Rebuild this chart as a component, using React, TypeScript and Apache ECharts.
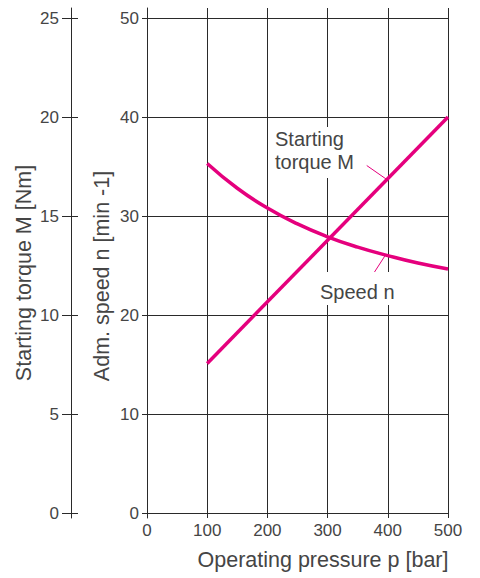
import React, { useEffect, useRef } from "react";
import * as echarts from "echarts";

const pressureTicks = [0, 100, 200, 300, 400, 500];
const speedPressure = [100, 150, 200, 250, 300, 350, 400, 450, 500];
const speedValues = [35.3, 32.8, 30.8, 29.2, 27.9, 26.85, 26.0, 25.25, 24.65];
const torquePressure = [100, 500];
const torqueValues = [7.55, 20.0];
// leader lines (in pressure / speed units)
const torqueLeader = [[365, 35.1], [398, 33.7]];
const speedLeader = [[370, 23.6], [395, 25.95]];

const MAGENTA = "#e5007d";
const LINE = "#2a2a2a";
const TEXT = "#454545";
const FONT = "'Liberation Sans', Arial, sans-serif";

export default function App() {
  const ref = useRef<HTMLDivElement>(null);
  useEffect(() => {
    if (!ref.current) return;
    const chart = echarts.init(ref.current, undefined, { renderer: "svg" });
    const lbl = { color: TEXT, fontSize: 17, fontFamily: FONT };
    chart.setOption({
      animation: false,
      backgroundColor: "#fff",
      grid: [
        { left: 147, right: 32, top: 18, bottom: 65 },
        { left: 147, right: 32, top: 8, bottom: 60 },
      ],
      xAxis: [
        {
          gridIndex: 0,
          type: "value",
          min: pressureTicks[0],
          max: pressureTicks[pressureTicks.length - 1],
          interval: 100,
          axisLine: { show: true, onZero: false, lineStyle: { color: LINE, width: 1 } },
          axisTick: { show: false },
          splitLine: { show: false },
          axisLabel: { ...lbl, margin: 9 },
        },
        {
          gridIndex: 1,
          type: "value",
          min: 0,
          max: 500,
          interval: 100,
          axisLine: { show: false },
          axisTick: { show: false },
          axisLabel: { show: false },
          splitLine: { show: true, lineStyle: { color: LINE, width: 1 } },
        },
      ],
      yAxis: [
        {
          gridIndex: 0,
          type: "value",
          position: "left",
          min: 0,
          max: 50,
          interval: 10,
          axisLine: { show: false },
          axisTick: { show: true, length: 5, lineStyle: { color: LINE } },
          splitLine: { show: true, lineStyle: { color: LINE, width: 1 } },
          axisLabel: { ...lbl, margin: 8 },
        },
        {
          gridIndex: 0,
          type: "value",
          position: "left",
          offset: 76,
          min: 0,
          max: 25,
          interval: 5,
          axisLine: { show: false },
          axisTick: { show: true, length: 9, lineStyle: { color: LINE } },
          splitLine: { show: false },
          axisLabel: { ...lbl, margin: 12 },
        },
        {
          gridIndex: 0,
          type: "value",
          position: "left",
          offset: 76,
          min: 0,
          max: 25,
          interval: 5,
          axisLine: { show: false },
          axisTick: { show: true, inside: true, length: 7, lineStyle: { color: LINE } },
          splitLine: { show: false },
          axisLabel: { show: false },
        },
        {
          gridIndex: 1,
          type: "value",
          position: "left",
          min: 0,
          max: 1,
          axisLine: { show: true, lineStyle: { color: LINE, width: 1 } },
          axisTick: { show: false },
          axisLabel: { show: false },
          splitLine: { show: false },
        },
        {
          gridIndex: 1,
          type: "value",
          position: "left",
          offset: 76,
          min: 0,
          max: 1,
          axisLine: { show: true, lineStyle: { color: LINE, width: 1 } },
          axisTick: { show: false },
          axisLabel: { show: false },
          splitLine: { show: false },
        },
      ],
      series: [
        {
          type: "line",
          xAxisIndex: 0,
          yAxisIndex: 0,
          data: speedPressure.map((p, i) => [p, speedValues[i]]),
          smooth: 0.5,
          symbol: "none",
          lineStyle: { color: MAGENTA, width: 3.5 },
          z: 5,
          markLine: {
            silent: true,
            symbol: ["none", "none"],
            label: { show: false },
            lineStyle: { color: MAGENTA, width: 1, type: "solid" },
            data: [
              [{ coord: torqueLeader[0] }, { coord: torqueLeader[1] }],
              [{ coord: speedLeader[0] }, { coord: speedLeader[1] }],
            ],
          },
        },
        {
          type: "line",
          xAxisIndex: 0,
          yAxisIndex: 1,
          data: torquePressure.map((p, i) => [p, torqueValues[i]]),
          symbol: "none",
          lineStyle: { color: MAGENTA, width: 3.5 },
          z: 5,
        },
      ],
      graphic: [
        {
          type: "text",
          x: 272,
          y: 127,
          z: 20,
          style: {
            text: "Starting\ntorque M",
            fill: TEXT,
            font: `20px ${FONT}`,
            lineHeight: 23,
            backgroundColor: "#fff",
            padding: [0, 3, 5, 3],
          },
        },
        {
          type: "text",
          x: 316,
          y: 272,
          z: 20,
          style: {
            text: "Speed n",
            fill: TEXT,
            font: `20px ${FONT}`,
            lineHeight: 23,
            backgroundColor: "#fff",
            padding: [8, 4, 2, 4],
          },
        },
        {
          type: "text",
          x: 24,
          y: 273,
          rotation: Math.PI / 2,
          style: {
            text: "Starting torque M [Nm]",
            fill: TEXT,
            font: `21.5px ${FONT}`,
            align: "center",
            verticalAlign: "middle",
          },
        },
        {
          type: "text",
          x: 102,
          y: 276,
          rotation: Math.PI / 2,
          style: {
            text: "Adm. speed n [min -1]",
            fill: TEXT,
            font: `21.5px ${FONT}`,
            align: "center",
            verticalAlign: "middle",
          },
        },
        {
          type: "text",
          x: 323,
          y: 560,
          style: {
            text: "Operating pressure p [bar]",
            fill: TEXT,
            font: `21.5px ${FONT}`,
            align: "center",
            verticalAlign: "middle",
          },
        },
      ],
    });
    return () => chart.dispose();
  }, []);
  return <div ref={ref} style={{ width: 480, height: 578, position: "absolute", left: 0, top: 0 }} />;
}
